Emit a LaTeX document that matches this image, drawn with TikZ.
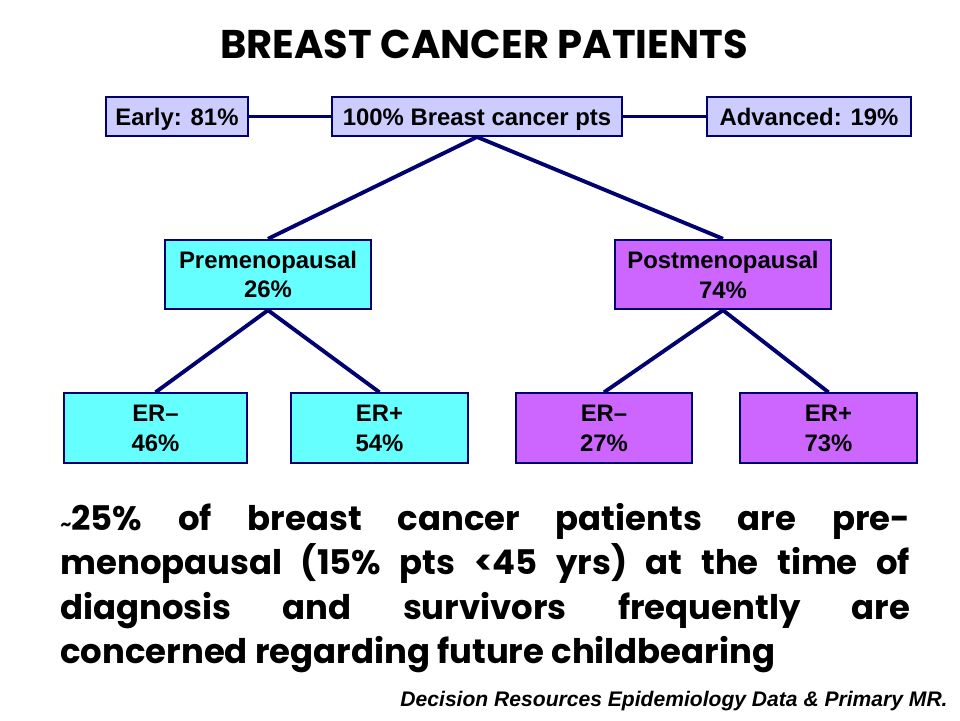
\documentclass[tikz,border=0pt]{standalone}
\usepackage{fontspec}
\setmainfont{Liberation Sans}
\newfontfamily\comicfont{Poppins}
\usepackage{xcolor}
\usepackage{tikz}
\usetikzlibrary{positioning}

\definecolor{navyline}{HTML}{000070}
\definecolor{lavenderfill}{HTML}{CCCCFF}
\definecolor{cyanfill}{HTML}{66FFFF}
\definecolor{purplefill}{HTML}{CC66FF}

\begin{document}
\begin{tikzpicture}[x=0.02cm,y=-0.02cm]
    \newcommand{\rowheight}[0]{ 1.39cm }
    \tikzstyle{tedge} = [line width=2.2pt,draw=navyline]
    \tikzstyle{box}=[
      draw=navyline,
      line width=1.1pt,
      inner sep=0pt,
      align=center,
      font=\bfseries\fontsize{13.6}{17}\selectfont,
    ]
    \tikzstyle{top box}=[
      box,
      fill=lavenderfill,
      minimum height=0.78cm,
      text height=9.7pt,
      text depth=0pt,
    ]
    \tikzstyle{pre box}=[
      box,
      fill=cyanfill,
      minimum height=\rowheight,
    ]
    \tikzstyle{post box}=[
      box,
      fill=purplefill,
      minimum height=\rowheight,
    ]

    \useasboundingbox (0,0) rectangle (960,720);

    \node[font=\comicfont\bfseries\fontsize{22.8}{26}\selectfont,anchor=base] (title) at (484,58) {BREAST CANCER PATIENTS};

    \node[top box,minimum width=2.84cm] (early) at (177,116.5) {Early: 81\%};
    \node[top box,minimum width=5.8cm] (all pts) at (477,116.5) {100\% Breast cancer pts};
    \node[top box,minimum width=4.08cm] (advanced) at (809,116.5) {Advanced: 19\%};

    \node[pre box,minimum width=4.12cm] (pre) at (268,274.5) {Premenopausal\\26\%};
    \node[post box,minimum width=4.32cm] (post) at (723,274.5) {Postmenopausal\\74\%};

    \node[pre box,minimum width=3.66cm] (pre neg) at (155.5,428) {ER--\\46\%};
    \node[pre box,minimum width=3.54cm] (pre pos) at (379.5,428) {ER+\\54\%};
    \node[post box,minimum width=3.52cm] (post neg) at (604,428) {ER--\\27\%};
    \node[post box,minimum width=3.54cm] (post pos) at (828.5,428) {ER+\\73\%};

    \draw[tedge] (early)--(all pts);
    \draw[tedge] (all pts)--(advanced);
    \draw[tedge] (all pts.south)--(pre.north);
    \draw[tedge] (all pts.south)--(post.north);
    \draw[tedge] (pre.south)--(pre neg.north);
    \draw[tedge] (pre.south)--(pre pos.north);
    \draw[tedge] (post.south)--(post neg.north);
    \draw[tedge] (post.south)--(post pos.north);

    \node[anchor=north west,inner sep=0pt,text width=17cm,align=justify,
      font=\comicfont\bfseries\fontsize{19.3}{25.3}\selectfont] (summary) at (60,503)
      {{\fontsize{10}{10}\selectfont\textasciitilde}25\% of breast cancer patients are pre-\linebreak
       menopausal (15\% pts <45 yrs) at the time of\linebreak
       diagnosis and survivors frequently are\linebreak
       concerned regarding future childbearing};

    \node[anchor=base east,inner sep=0pt,font=\bfseries\itshape\fontsize{12}{14}\selectfont] (source) at (948,706)
      {Decision Resources Epidemiology Data \& Primary MR.};
\end{tikzpicture}
\end{document}
